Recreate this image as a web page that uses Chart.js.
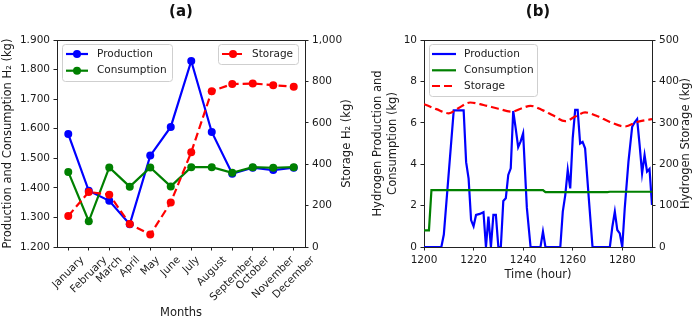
<!DOCTYPE html>
<html><head><meta charset="utf-8">
<script src="https://cdn.jsdelivr.net/npm/chart.js@4.4.0/dist/chart.umd.min.js"></script>
<style>
html,body{margin:0;padding:0;background:#fff;width:700px;height:320px;overflow:hidden;}
#ca{position:absolute;left:0;top:0;}
#cb{position:absolute;left:358px;top:0;}
</style></head><body>
<canvas id="ca" width="358" height="320"></canvas>
<canvas id="cb" width="342" height="320"></canvas>
<script>
// ---------- data (a) ----------
const months = ['January','February','March','April','May','June','July','August','September','October','November','December'];
const monthlyProduction  = [1582,1390,1356,1277,1509,1606,1829,1589,1448,1468,1460,1468];
const monthlyConsumption = [1454,1287,1469,1404,1469,1405,1470,1470,1451,1470,1468,1470];
const monthlyStorage     = [150,266,253,111,60,215,458,753,787,790,782,774];
const ticksA_left  = [1200,1300,1400,1500,1600,1700,1800,1900];
const ticksA_right = [0,200,400,600,800,1000];

// ---------- data (b) ----------
const prodHours = [1200,1207,1208,1212,1216,1217,1218,1219,1220,1221,1222.5,1224,1225,1226,1227,1228,1229,1230,1231,1232,1233,1234,1235,1236,1237,1238,1239,1240,1241.5,1243,1247,1248,1249,1255,1256,1257,1258,1259,1260,1261,1262,1263,1264,1265,1266.5,1268,1275,1276,1277,1278,1279,1280,1281,1282.5,1284,1285,1286,1287,1288,1289,1290,1291,1292];
const prodValues = [0,0,0.6,6.6,6.6,4.1,3.3,1.3,1.0,1.55,1.6,1.68,0,1.47,0,1.55,1.55,0,0,2.22,2.35,3.48,3.8,6.57,5.73,4.82,5.1,5.49,1.9,0,0,0.74,0,0,1.71,2.51,3.72,2.83,5.25,6.62,6.62,5.0,5.08,4.77,2.35,0,0,0.98,1.71,0.82,0.66,0,1.87,4.12,5.81,6.02,6.18,4.93,3.56,4.44,3.64,3.77,2.03];
const consHours  = [1200,1202,1203,1248,1249,1274,1275,1292];
const consValues = [0.8,0.8,2.75,2.75,2.65,2.65,2.67,2.67];
const storHours  = [1200,1205,1210,1214,1218.6,1224,1230,1235.5,1239,1243,1248,1252,1257,1261,1265,1270,1275,1281,1286,1292];
const storValues = [345,333,323,336,349,343,334,327,334,341,330,318,304,315,325,316,302,291,302,309];
const ticksB_x     = [1200,1220,1240,1260,1280];
const ticksB_left  = [0,2,4,6,8,10];
const ticksB_right = [0,100,200,300,400,500];

const FONT = 'DejaVu Sans';
Chart.defaults.font.family = FONT;
Chart.defaults.color = '#1a1a1a';
const AX = '#222';
const BLUE = '#0000ff', GREEN = '#008000', RED = '#ff0000';

const dotFmt = v => String(Math.round(v)).replace(/\B(?=(\d{3})+(?!\d))/g, '.');
const commaFmt = v => String(Math.round(v)).replace(/\B(?=(\d{3})+(?!\d))/g, ',');

function setTicks(list){ return s => { s.ticks = list.map(v => ({value: v})); }; }
function gridOpts(){ return {drawOnChartArea:false, drawTicks:true, tickLength:3.5, tickColor:AX, tickWidth:1}; }
function borderOpts(){ return {display:true, color:AX, width:1}; }

function drawLegendBox(ctx, x, y, w, h){
  ctx.save();
  ctx.beginPath();
  if (ctx.roundRect) ctx.roundRect(x+0.5, y+0.5, w, h, 3); else ctx.rect(x+0.5, y+0.5, w, h);
  ctx.fillStyle = 'rgba(255,255,255,0.85)';
  ctx.fill();
  ctx.strokeStyle = '#cfcfcf';
  ctx.lineWidth = 1;
  ctx.stroke();
  ctx.restore();
}
function drawLegendItem(ctx, x1, x2, y, color, dash, marker, label, tx){
  ctx.save();
  ctx.strokeStyle = color; ctx.lineWidth = 2.2; ctx.setLineDash(dash || []);
  ctx.beginPath(); ctx.moveTo(x1, y); ctx.lineTo(x2, y); ctx.stroke();
  ctx.setLineDash([]);
  if (marker){ ctx.fillStyle = color; ctx.beginPath(); ctx.arc((x1+x2)/2, y, 4, 0, Math.PI*2); ctx.fill(); }
  ctx.fillStyle = '#1a1a1a'; ctx.font = '10.5px ' + FONT; ctx.textBaseline = 'middle'; ctx.textAlign = 'left';
  ctx.fillText(label, tx, y);
  ctx.restore();
}
function topSpine(chart){
  const {ctx, chartArea:a} = chart;
  ctx.save(); ctx.strokeStyle = AX; ctx.lineWidth = 1;
  const y = Math.floor(a.top) + 0.5;
  ctx.beginPath(); ctx.moveTo(Math.floor(a.left)+0.5, y); ctx.lineTo(Math.floor(a.right)+0.5, y); ctx.stroke();
  ctx.restore();
}
function drawTitle(chart, text){
  const {ctx, chartArea:a} = chart;
  ctx.save(); ctx.fillStyle = '#111'; ctx.font = 'bold 15px ' + FONT;
  ctx.textAlign = 'center'; ctx.textBaseline = 'middle';
  ctx.fillText(text, (a.left + a.right)/2, 12);
  ctx.restore();
}
// right-hand axis title reading bottom-to-top (matplotlib style)
function drawRightTitle(chart, text, x){
  const {ctx, chartArea:a} = chart;
  ctx.save(); ctx.fillStyle = '#1a1a1a'; ctx.font = '11.5px ' + FONT;
  ctx.textAlign = 'center'; ctx.textBaseline = 'middle';
  ctx.translate(x, (a.top + a.bottom)/2); ctx.rotate(-Math.PI/2);
  ctx.fillText(text, 0, 0);
  ctx.restore();
}

// ---------- chart (a) ----------
const pluginA = {
  id: 'extrasA',
  afterDraw(chart){
    const {ctx, chartArea:a} = chart;
    topSpine(chart);
    drawTitle(chart, '(a)');
    drawRightTitle(chart, 'Storage H₂ (kg)', 347);
    // rotated month labels, centred on ticks (matplotlib style)
    const xs = chart.scales.x;
    ctx.save();
    ctx.font = '10.5px ' + FONT; ctx.fillStyle = '#1a1a1a';
    ctx.textAlign = 'center'; ctx.textBaseline = 'middle';
    months.forEach((m, i) => {
      const px = xs.getPixelForValue(i);
      const w = ctx.measureText(m).width, h = 12.2;
      const D = (w + h) / Math.SQRT2;
      const cy = a.bottom + 7 + D/2;
      ctx.save(); ctx.translate(px, cy); ctx.rotate(-Math.PI/4); ctx.fillText(m, 0, 0); ctx.restore();
    });
    ctx.restore();
    // legends
    drawLegendBox(ctx, 62, 44, 110, 37);
    drawLegendItem(ctx, 66, 88, 54, BLUE, null, true, 'Production', 97);
    drawLegendItem(ctx, 66, 88, 70.7, GREEN, null, true, 'Consumption', 97);
    drawLegendBox(ctx, 218, 44, 80, 20);
    drawLegendItem(ctx, 222, 244, 54, RED, [8,4], true, 'Storage', 252);
  }
};

const toXY = (xs, ys) => ys.map((v, i) => ({x: xs[i], y: v}));
const idx = months.map((m, i) => i);

new Chart(document.getElementById('ca'), {
  type: 'line',
  data: { datasets: [
    {label:'Storage', data: toXY(idx, monthlyStorage), yAxisID:'y1', borderColor:RED, backgroundColor:RED, borderDash:[8,4], borderWidth:2.2, pointRadius:4, pointBorderWidth:0, pointBackgroundColor:RED, tension:0},
    {label:'Consumption', data: toXY(idx, monthlyConsumption), yAxisID:'y', borderColor:GREEN, backgroundColor:GREEN, borderWidth:2.2, pointRadius:4, pointBorderWidth:0, pointBackgroundColor:GREEN, tension:0},
    {label:'Production', data: toXY(idx, monthlyProduction), yAxisID:'y', borderColor:BLUE, backgroundColor:BLUE, borderWidth:2.2, pointRadius:4, pointBorderWidth:0, pointBackgroundColor:BLUE, tension:0}
  ]},
  options: {
    responsive:false, animation:false, devicePixelRatio:1,
    layout:{padding:{top:40, left:0, right:0, bottom:0}},
    plugins:{legend:{display:false}, tooltip:{enabled:false}},
    scales:{
      x:{type:'linear', min:-0.55, max:11.55, afterBuildTicks:setTicks(idx),
         ticks:{display:false}, grid:gridOpts(), border:borderOpts(),
         afterFit:s=>{s.height=73;},
         title:{display:true, text:'Months', font:{size:11.5}, color:'#1a1a1a', padding:{top:0,bottom:0}}},
      y:{position:'left', min:1200, max:1900, afterBuildTicks:setTicks(ticksA_left),
         ticks:{callback:v=>dotFmt(v), font:{size:10.5}, padding:3.5, color:'#1a1a1a'},
         grid:gridOpts(), border:borderOpts(), afterFit:s=>{s.width=57;},
         title:{display:true, text:'Production and Consumption H₂ (kg)', font:{size:11.5}, color:'#1a1a1a', padding:{top:1,bottom:0}}},
      y1:{position:'right', min:0, max:1000, afterBuildTicks:setTicks(ticksA_right),
         ticks:{callback:v=>commaFmt(v), font:{size:10.5}, padding:3.5, color:'#1a1a1a'},
         grid:gridOpts(), border:borderOpts(), afterFit:s=>{s.width=53;},
         title:{display:false}}
    }
  },
  plugins:[pluginA]
});

// ---------- chart (b) ----------
const pluginB = {
  id: 'extrasB',
  afterDraw(chart){
    const {ctx} = chart;
    topSpine(chart);
    drawTitle(chart, '(b)');
    drawRightTitle(chart, 'Hydrogen Storage (kg)', 328);
    const o = -358;
    drawLegendBox(ctx, 429+o, 44, 108, 52);
    drawLegendItem(ctx, 432+o, 456+o, 54, BLUE, null, false, 'Production', 464+o);
    drawLegendItem(ctx, 432+o, 456+o, 70.3, GREEN, null, false, 'Consumption', 464+o);
    drawLegendItem(ctx, 432+o, 456+o, 86, RED, [8,4], false, 'Storage', 464+o);
  }
};

new Chart(document.getElementById('cb'), {
  type: 'line',
  data: { datasets: [
    {label:'Storage', data: toXY(storHours, storValues), yAxisID:'y1', borderColor:RED, borderDash:[8,4], borderWidth:2.2, pointRadius:0, cubicInterpolationMode:'monotone'},
    {label:'Consumption', data: toXY(consHours, consValues), yAxisID:'y', borderColor:GREEN, borderWidth:2.2, pointRadius:0, tension:0},
    {label:'Production', data: toXY(prodHours, prodValues), yAxisID:'y', borderColor:BLUE, borderWidth:2.2, pointRadius:0, tension:0}
  ]},
  options: {
    responsive:false, animation:false, devicePixelRatio:1,
    layout:{padding:{top:40, left:0, right:0, bottom:0}},
    plugins:{legend:{display:false}, tooltip:{enabled:false}},
    scales:{
      x:{type:'linear', min:1200, max:1292, afterBuildTicks:setTicks(ticksB_x),
         ticks:{font:{size:10.5}, padding:3.5, color:'#1a1a1a', maxRotation:0, callback:v=>String(v)},
         grid:gridOpts(), border:borderOpts(), afterFit:s=>{s.height=73;},
         title:{display:true, text:'Time (hour)', font:{size:11.5}, color:'#1a1a1a', padding:{top:0,bottom:38}}},
      y:{position:'left', min:0, max:10, afterBuildTicks:setTicks(ticksB_left),
         ticks:{font:{size:10.5}, padding:3.5, color:'#1a1a1a'},
         grid:gridOpts(), border:borderOpts(), afterFit:s=>{s.width=66;},
         title:{display:true, text:['Hydrogen Production and','Consumption (kg)'], font:{size:11.5, lineHeight:1.25}, color:'#1a1a1a', padding:{top:13,bottom:0}}},
      y1:{position:'right', min:0, max:500, afterBuildTicks:setTicks(ticksB_right),
         ticks:{font:{size:10.5}, padding:3.5, color:'#1a1a1a'},
         grid:gridOpts(), border:borderOpts(), afterFit:s=>{s.width=48;},
         title:{display:false}}
    }
  },
  plugins:[pluginB]
});
</script>
</body></html>
